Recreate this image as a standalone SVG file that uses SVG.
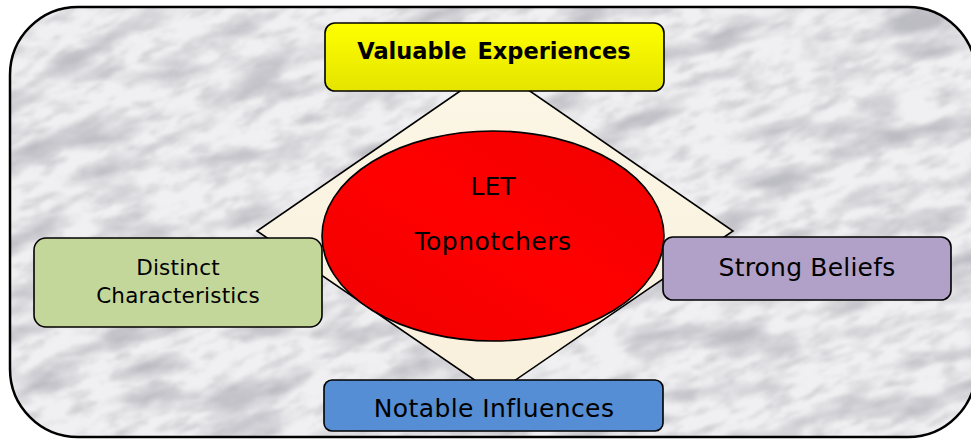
<svg xmlns="http://www.w3.org/2000/svg" width="971" height="439" viewBox="0 0 971 439">
  <defs>
    <style>
      .box { stroke: #000; stroke-width: 1.6; }
      .lbl { font-family: "DejaVu Sans", Verdana, sans-serif; fill: #000; text-anchor: middle; }
    </style>
    <clipPath id="frameClip">
      <rect x="10" y="7" width="966" height="430" rx="68" ry="68"/>
    </clipPath>
    <!-- grey marble blotches and wisps -->
    <filter id="marble" x="0" y="0" width="1" height="1" filterUnits="objectBoundingBox">
      <feTurbulence type="fractalNoise" baseFrequency="0.012 0.035" numOctaves="5" seed="11" result="n"/>
      <feColorMatrix in="n" type="matrix" values="0 0 0 0 0.5  0 0 0 0 0.5  0 0 0 0 0.54  2.8 0 0 0 -1.3"/>
      <feGaussianBlur stdDeviation="1.5"/>
    </filter>
    <filter id="marbleFine" x="0" y="0" width="1" height="1" filterUnits="objectBoundingBox">
      <feTurbulence type="fractalNoise" baseFrequency="0.035 0.09" numOctaves="4" seed="4" result="n"/>
      <feColorMatrix in="n" type="matrix" values="0 0 0 0 0.52  0 0 0 0 0.52  0 0 0 0 0.56  2.5 0 0 0 -1.2"/>
      <feGaussianBlur stdDeviation="0.8"/>
    </filter>
    <linearGradient id="yellowFill" x1="0" y1="0" x2="0" y2="1">
      <stop offset="0" stop-color="#FFFF00"/>
      <stop offset="1" stop-color="#E4E400"/>
    </linearGradient>
    <linearGradient id="redFill" x1="0" y1="1" x2="1" y2="0">
      <stop offset="0" stop-color="#EE0000"/>
      <stop offset="0.5" stop-color="#FF0000"/>
      <stop offset="1" stop-color="#F00000"/>
    </linearGradient>
    <linearGradient id="creamFill" x1="0" y1="0" x2="0" y2="1">
      <stop offset="0" stop-color="#FCF6E6"/>
      <stop offset="1" stop-color="#F9F0DC"/>
    </linearGradient>
  </defs>

  <!-- background frame with marble texture -->
  <g id="frame">
    <g clip-path="url(#frameClip)">
      <rect x="0" y="0" width="971" height="439" fill="#F0F0F2"/>
      <g transform="rotate(-14 485 220)">
        <rect x="-250" y="-300" width="1500" height="1050" filter="url(#marble)"/>
      </g>
      <g transform="rotate(-20 485 220)">
        <rect x="-250" y="-300" width="1500" height="1050" filter="url(#marbleFine)" opacity="0.7"/>
      </g>
    </g>
    <rect x="10" y="7" width="966" height="430" rx="68" ry="68" fill="none" stroke="#000" stroke-width="2.5"/>
  </g>

  <!-- diamond joining the four themes -->
  <g id="connectors">
    <polygon points="495,67 733,231 495,394 257,231" fill="url(#creamFill)" stroke="#000" stroke-width="1.6"/>
  </g>

  <g id="center">
    <ellipse cx="493" cy="236" rx="171" ry="105" fill="url(#redFill)" stroke="#000" stroke-width="1.6"/>
    <text class="lbl" x="493" y="195" font-size="25">LET</text>
    <text class="lbl" x="493" y="250" font-size="25" letter-spacing="0.5">Topnotchers</text>
  </g>

  <g id="valuable-experiences">
    <rect class="box" x="325" y="23" width="339" height="68" rx="10" fill="url(#yellowFill)"/>
    <text class="lbl" x="494" y="59" font-size="22.5" font-weight="bold" word-spacing="3">Valuable Experiences</text>
  </g>

  <g id="distinct-characteristics">
    <rect class="box" x="34" y="238" width="288" height="89" rx="12" fill="#C4D79B"/>
    <text class="lbl" x="178" y="275" font-size="21.5" letter-spacing="0.2">Distinct</text>
    <text class="lbl" x="178" y="303" font-size="21.5" letter-spacing="0.2">Characteristics</text>
  </g>

  <g id="strong-beliefs">
    <rect class="box" x="663" y="237" width="288" height="63" rx="10" fill="#B1A0C7"/>
    <text class="lbl" x="807" y="276" font-size="25" letter-spacing="0.2">Strong Beliefs</text>
  </g>

  <g id="notable-influences">
    <rect class="box" x="324" y="380" width="339" height="51" rx="8" fill="#558ED5"/>
    <text class="lbl" x="494" y="417" font-size="25" letter-spacing="0.4">Notable Influences</text>
  </g>
</svg>
